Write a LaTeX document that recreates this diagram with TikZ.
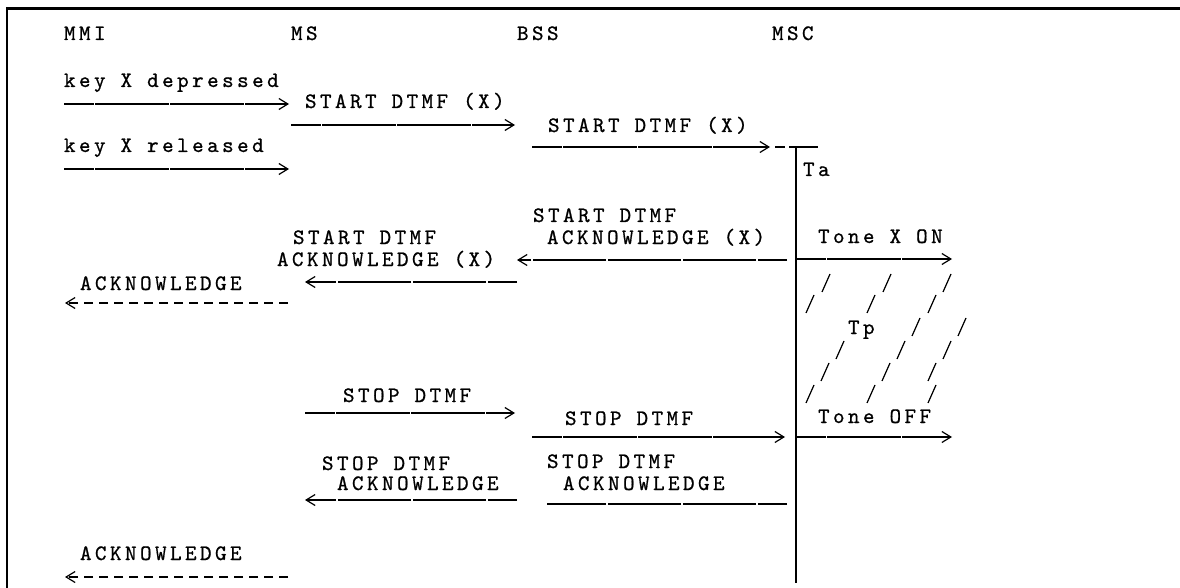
\documentclass[tikz,border=0pt]{standalone}
\usepackage{fontspec}
\usetikzlibrary{arrows.meta}
\newfontfamily\asciifam[LetterSpace=15.7,FakeBold=0.8]{lmmono10-regular.otf}
\newcommand\asciifont{\asciifam\fontsize{22pt}{24pt}\selectfont}
\tikzset{
  lbl/.style={anchor=base west, inner sep=0pt, outer sep=0pt, font=\asciifont},
  wire/.style={line width=1.1pt},
  seg/.style={wire, dash pattern=on 73.5pt off 1.5pt, dash phase=44pt},
  msg/.style={seg, -{Straight Barb[length=9pt,width=11pt,line width=1.2pt]}},
  dmsg/.style={wire, -{Straight Barb[length=9pt,width=11pt,line width=1.2pt]}, dash pattern=on 9pt off 6pt},
  hatch/.style={line width=1.2pt},
  frame/.style={line width=2.2pt}
}
\begin{document}
\begin{tikzpicture}[x=1pt,y=-1pt]
\useasboundingbox (0,0) rectangle (1180,588);
\draw[frame] (1182,8.5) -- (7,8.5) -- (7,590);

% headers
\node[lbl] (hMMI) at (64,40) {MMI};
\node[lbl] (hMS)  at (291,40) {MS};
\node[lbl] (hBSS) at (517,40) {BSS};
\node[lbl] (hMSC) at (772,40) {MSC};

% MSC life line
\coordinate (mtop) at (796,147);
\coordinate (mbot) at (796,583);
\draw[wire] (mtop) -- (mbot);

% key X depressed
\node[lbl] (t1) at (64,87) {key X depressed};
\coordinate (a1s) at (64,104); \coordinate (a1e) at (289,104);
\draw[msg] (a1s) -- (a1e);

% START DTMF (X) MS -> BSS
\node[lbl] (t2) at (305,108) {START DTMF (X)};
\coordinate (a2s) at (291,125); \coordinate (a2e) at (515,125);
\draw[msg] (a2s) -- (a2e);

% START DTMF (X) BSS -> MSC
\node[lbl] (t3) at (548,132) {START DTMF (X)};
\coordinate (a3s) at (532,147); \coordinate (a3e) at (770,147);
\draw[msg] (a3s) -- (a3e);
\coordinate (d3s) at (775,147); \coordinate (d3e) at (785,147);
\draw[wire] (d3s) -- (d3e);
\coordinate (tbl) at (789,147); \coordinate (tbr) at (818,147);
\draw[wire] (tbl) -- (tbr);
\node[lbl] (tTa) at (803,176) {Ta};

% key X released
\node[lbl] (t4) at (64,152) {key X released};
\coordinate (a4s) at (64,169); \coordinate (a4e) at (289,169);
\draw[msg] (a4s) -- (a4e);

% START DTMF ACKNOWLEDGE (X) MSC -> BSS
\node[lbl] (t5a) at (533,222) {START DTMF};
\node[lbl] (t5b) at (547,244) {ACKNOWLEDGE (X)};
\coordinate (a5s) at (787,260); \coordinate (a5e) at (517,260);
\draw[msg] (a5s) -- (a5e);

% START DTMF ACKNOWLEDGE (X) BSS -> MS
\node[lbl] (t6a) at (293,244) {START DTMF};
\node[lbl] (t6b) at (277,266) {ACKNOWLEDGE (X)};
\coordinate (a6s) at (517,282); \coordinate (a6e) at (305,282);
\draw[msg] (a6s) -- (a6e);

% Tone X ON
\node[lbl] (tOn) at (818,243) {Tone X ON};
\coordinate (onS) at (796,259); \coordinate (onE) at (952,259);
\draw[msg] (onS) -- (onE);

% ACKNOWLEDGE MS -> MMI
\node[lbl] (t7) at (80,290) {ACKNOWLEDGE};
\coordinate (a7s) at (288,303); \coordinate (a7e) at (65,303);
\draw[dmsg] (a7s) -- (a7e);

% Tp hatching
\node[lbl] (tTp) at (848,334) {Tp};
\foreach \x in {822,883,943} \draw[hatch] (\x+8,274) -- (\x,292);
\foreach \x in {806,867,928} \draw[hatch] (\x+8,295) -- (\x,313);
\foreach \x in {912,958}     \draw[hatch] (\x+8,318) -- (\x,336);
\foreach \x in {836,897,943} \draw[hatch] (\x+8,341) -- (\x,359);
\foreach \x in {821,882,928} \draw[hatch] (\x+8,363) -- (\x,381);
\foreach \x in {806,867,928} \draw[hatch] (\x+8,385) -- (\x,403);

% STOP DTMF MS -> BSS
\node[lbl] (t8) at (343,402) {STOP DTMF};
\coordinate (a8s) at (305,413); \coordinate (a8e) at (515,413);
\draw[msg] (a8s) -- (a8e);

% STOP DTMF BSS -> MSC
\node[lbl] (t9) at (565,425) {STOP DTMF};
\coordinate (a9s) at (532,437); \coordinate (a9e) at (785,437);
\draw[msg] (a9s) -- (a9e);

% Tone OFF
\node[lbl] (tOff) at (818,423) {Tone OFF};
\coordinate (offS) at (796,437); \coordinate (offE) at (952,437);
\draw[msg] (offS) -- (offE);

% STOP DTMF ACKNOWLEDGE MSC -> BSS (no head)
\node[lbl] (t10a) at (547,468) {STOP DTMF};
\node[lbl] (t10b) at (563,490) {ACKNOWLEDGE};
\coordinate (a10s) at (787,504); \coordinate (a10e) at (547,504);
\draw[seg] (a10s) -- (a10e);

% STOP DTMF ACKNOWLEDGE BSS -> MS
\node[lbl] (t11a) at (322,470) {STOP DTMF};
\node[lbl] (t11b) at (337,490) {ACKNOWLEDGE};
\coordinate (a11s) at (517,500); \coordinate (a11e) at (305,500);
\draw[msg] (a11s) -- (a11e);

% ACKNOWLEDGE MS -> MMI
\node[lbl] (t12) at (80,560) {ACKNOWLEDGE};
\coordinate (a12s) at (288,577); \coordinate (a12e) at (65,577);
\draw[dmsg] (a12s) -- (a12e);
\end{tikzpicture}
\end{document}
